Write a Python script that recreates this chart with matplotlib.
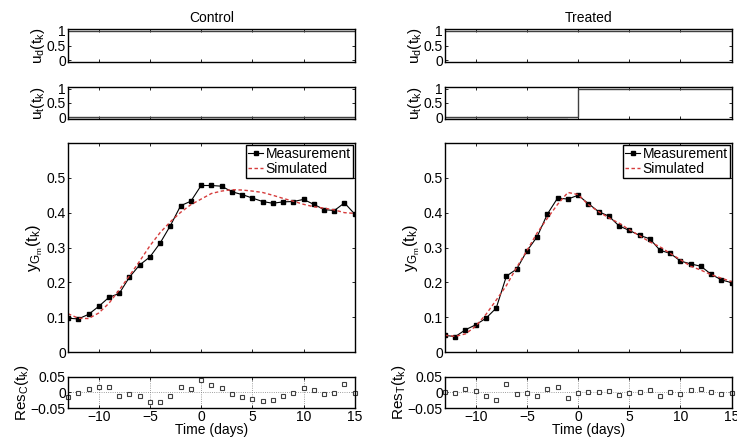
import matplotlib
matplotlib.use('Agg')
import matplotlib.pyplot as plt
import numpy as np

plt.rcParams['font.family'] = ['Liberation Sans', 'DejaVu Sans']
plt.rcParams['mathtext.fontset'] = 'custom'
plt.rcParams['mathtext.rm'] = 'Liberation Sans'
plt.rcParams['mathtext.it'] = 'Liberation Sans'
plt.rcParams['font.size'] = 10

days = list(range(-13, 16))

# control group
meas_c = [0.097, 0.095, 0.108, 0.131, 0.157, 0.168, 0.215, 0.250, 0.273, 0.313,
          0.363, 0.420, 0.433, 0.478, 0.478, 0.476, 0.460, 0.452, 0.442, 0.432,
          0.427, 0.431, 0.432, 0.438, 0.424, 0.409, 0.406, 0.428, 0.396]
sim_c = [0.110, 0.097, 0.096, 0.112, 0.140, 0.178, 0.219, 0.261, 0.305, 0.343,
         0.374, 0.401, 0.423, 0.439, 0.455, 0.462, 0.466, 0.465, 0.462, 0.458,
         0.450, 0.441, 0.433, 0.424, 0.417, 0.413, 0.408, 0.400, 0.398]
res_c = [-0.013, -0.002, 0.012, 0.019, 0.017, -0.010, -0.004, -0.011, -0.032, -0.030,
         -0.011, 0.019, 0.010, 0.039, 0.023, 0.014, -0.006, -0.013, -0.020, -0.026,
         -0.023, -0.010, -0.001, 0.014, 0.007, -0.004, -0.002, 0.028, -0.002]
ud_c = [1] * 29
ut_c = [0] * 29

# treated group
meas_t = [0.048, 0.044, 0.064, 0.078, 0.097, 0.126, 0.218, 0.238, 0.290, 0.331,
          0.396, 0.442, 0.439, 0.450, 0.426, 0.403, 0.390, 0.362, 0.349, 0.335,
          0.325, 0.292, 0.283, 0.261, 0.253, 0.246, 0.223, 0.207, 0.199]
sim_t = [0.048, 0.045, 0.052, 0.074, 0.108, 0.149, 0.191, 0.243, 0.291, 0.342,
         0.384, 0.424, 0.458, 0.452, 0.423, 0.403, 0.385, 0.370, 0.351, 0.334,
         0.316, 0.302, 0.283, 0.265, 0.246, 0.235, 0.222, 0.212, 0.202]
res_t = [0.000, -0.001, 0.012, 0.004, -0.011, -0.023, 0.027, -0.005, -0.001, -0.011,
         0.012, 0.018, -0.019, -0.002, 0.003, 0.000, 0.005, -0.008, -0.002, 0.001,
         0.009, -0.010, 0.000, -0.004, 0.007, 0.011, 0.001, -0.005, -0.003]
ud_t = [1] * 29
ut_t = [0] * 13 + [1] * 16

fig = plt.figure(figsize=(7.37, 4.43), dpi=100)

xticks = [-10, -5, 0, 5, 10, 15]


def style(ax):
    ax.set_xlim(-13, 15)
    ax.set_xticks(xticks)
    ax.tick_params(direction='in', top=True, right=True, length=2.5, width=0.6, pad=1.5)
    for s in ax.spines.values():
        s.set_linewidth(1.0)


groups = [
    ('Control', 0.0923, meas_c, sim_c, res_c, ud_c, ut_c, 'C'),
    ('Treated', 0.6038, meas_t, sim_t, res_t, ud_t, ut_t, 'T'),
]

for title, left, meas, sim, res, ud, ut, tag in groups:
    w = 0.389
    a1 = fig.add_axes([left, 0.860, w, 0.0745])
    a2 = fig.add_axes([left, 0.7314, w, 0.0722])
    a3 = fig.add_axes([left, 0.2054, w, 0.4718])
    a4 = fig.add_axes([left, 0.079, w, 0.070])

    for ax, u, lab in [(a1, ud, r'$\mathregular{u_d(t_k)}$'), (a2, ut, r'$\mathregular{u_t(t_k)}$')]:
        ua = np.array(u)
        ax.fill_between(days, -0.06, 0, where=ua == 0, step='post', color='0.85', lw=0)
        ax.step(days, u, where='post', color='0.25', lw=1.0)
        ax.set_ylim(-0.06, 1.06)
        ax.set_yticks([0, 0.5, 1])
        ax.set_yticklabels(['0', '0.5', '1'])
        ax.set_xticklabels([])
        ax.set_ylabel(lab, labelpad=0, fontsize=11)
        style(ax)
    a1.set_title(title, fontsize=10, pad=5)

    a3.plot(days, meas, '-s', color='black', lw=0.8, ms=2.2, label='Measurement')
    a3.plot(days, sim, '--', color='#d63c3c', lw=1.0, dashes=(2.5, 1.8), label='Simulated')
    a3.set_ylim(0, 0.6)
    a3.set_yticks([0, 0.1, 0.2, 0.3, 0.4, 0.5])
    a3.set_yticklabels(['0', '0.1', '0.2', '0.3', '0.4', '0.5'])
    a3.set_xticklabels([])
    a3.set_ylabel(r'$\mathregular{y_{G_m}(t_k)}$', labelpad=1, fontsize=12)
    style(a3)
    leg = a3.legend(loc='upper right', fancybox=False, framealpha=1, edgecolor='black',
                    handlelength=1.1, handletextpad=0.15, borderpad=0.15, labelspacing=0.05,
                    borderaxespad=0.15, fontsize=10)
    leg.get_frame().set_linewidth(1.0)

    a4.plot(days, res, 's', mfc='white', mec='0.25', ms=2.2, mew=0.8, clip_on=False)
    a4.set_ylim(-0.05, 0.05)
    a4.set_yticks([-0.05, 0, 0.05])
    a4.set_yticklabels(['\u22120.05', '0', '0.05'])
    a4.set_xticklabels(['\u221210', '\u22125', '0', '5', '10', '15'])
    a4.grid(True, linestyle=':', color='0.5', lw=0.6)
    a4.set_ylabel(r'$\mathregular{Res_%s(t_k)}$' % tag, labelpad=0, fontsize=11)
    a4.set_xlabel('Time (days)', labelpad=-1)
    style(a4)

fig.savefig('out.png', dpi=100)
